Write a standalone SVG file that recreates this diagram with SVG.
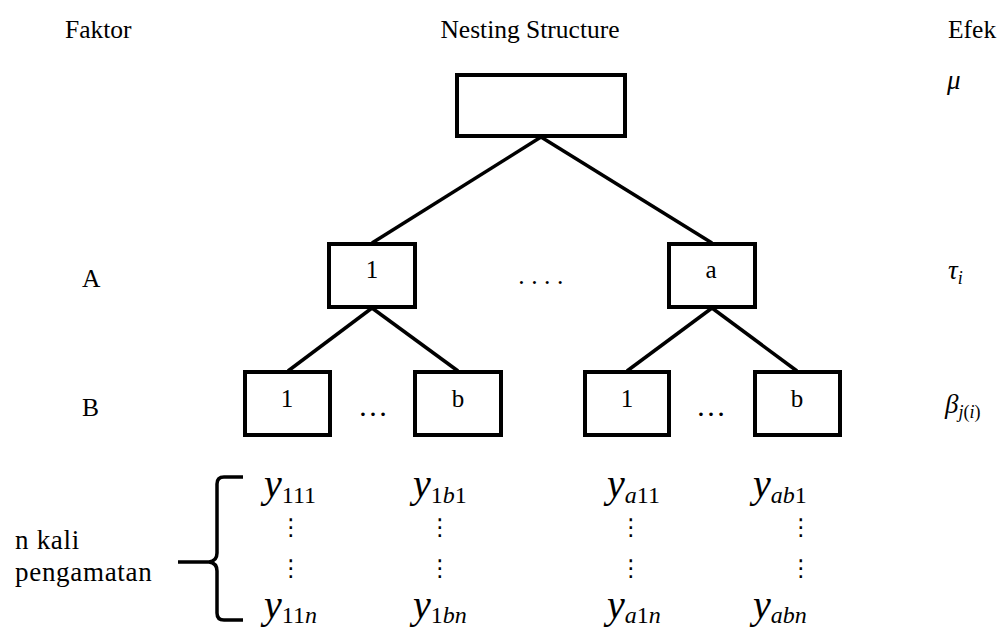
<svg xmlns="http://www.w3.org/2000/svg" width="1006" height="629" viewBox="0 0 1006 629">
<style>
.box{fill:#fff;stroke:#000;stroke-width:4}
.edge{stroke:#000;stroke-width:3.5;fill:none}
.lbl{font-family:"Liberation Serif","Times New Roman",serif;font-size:25.5px;fill:#000}
.bl{font-size:25px}
.big{font-size:27px;letter-spacing:0.7px}
.ell{font-size:30px}
.ctr{text-anchor:middle}
.math{font-family:"Liberation Serif","Times New Roman",serif;font-style:italic;fill:#000}
.up{font-style:normal}
.vd{font-family:"DejaVu Sans",sans-serif;font-size:23px;text-anchor:middle;fill:#000}
.obs{font-size:40px}
.sub{font-size:24px}
</style>
<rect width="1006" height="629" fill="#fff"/>
<g id="headers">
<text class="lbl" x="65" y="38">Faktor</text>
<text class="lbl ctr" x="530" y="38">Nesting Structure</text>
<text class="lbl" x="948" y="38">Efek</text>
<text class="lbl" x="82" y="287">A</text>
<text class="lbl" x="82" y="416">B</text>
</g>
<g id="connectors">
<line class="edge" x1="541" y1="137" x2="372" y2="243"/>
<line class="edge" x1="541" y1="137" x2="712" y2="243"/>
<line class="edge" x1="372" y1="308" x2="288" y2="371"/>
<line class="edge" x1="372" y1="308" x2="458" y2="371"/>
<line class="edge" x1="712" y1="308" x2="627" y2="371"/>
<line class="edge" x1="712" y1="308" x2="797" y2="371"/>
</g>
<g id="root"><rect class="box" x="457" y="75" width="168" height="61"/></g>
<g id="A1"><rect class="box" x="329" y="244" width="86" height="63"/><text class="lbl bl ctr" x="372" y="278">1</text></g>
<g id="Aa"><rect class="box" x="669" y="244" width="86" height="63"/><text class="lbl bl ctr" x="711" y="278">a</text></g>
<text class="lbl ctr" x="544" y="284" letter-spacing="6.5">....</text>
<g id="B11"><rect class="box" x="245" y="372" width="85" height="63"/><text class="lbl bl ctr" x="287" y="407">1</text></g>
<g id="B1b"><rect class="box" x="415" y="372" width="86" height="63"/><text class="lbl bl ctr" x="458" y="407">b</text></g>
<g id="Ba1"><rect class="box" x="585" y="372" width="84" height="63"/><text class="lbl bl ctr" x="627" y="407">1</text></g>
<g id="Bab"><rect class="box" x="755" y="372" width="85" height="63"/><text class="lbl bl ctr" x="797" y="407">b</text></g>
<text class="lbl ell ctr" x="373" y="416">…</text>
<text class="lbl ell ctr" x="711" y="416">…</text>
<g id="effects">
<text class="math" x="947" y="89" font-size="27">μ</text>
<text class="math" x="948" y="279" font-size="27">τ<tspan font-size="18" dy="5">i</tspan></text>
<text class="math" x="945" y="413" font-size="27">β<tspan font-size="18" dy="5">j<tspan class="up">(</tspan>i<tspan class="up">)</tspan></tspan></text>
</g>
<g id="observations">
<text class="math obs" x="264" y="497">y<tspan class="up sub" dy="6">111</tspan></text>
<text class="math obs" x="413" y="497">y<tspan class="up sub" dy="6">1</tspan><tspan class="sub">b</tspan><tspan class="up sub">1</tspan></text>
<text class="math obs" x="607" y="497">y<tspan class="sub" dy="6">a</tspan><tspan class="up sub">11</tspan></text>
<text class="math obs" x="753" y="497">y<tspan class="sub" dy="6">ab</tspan><tspan class="up sub">1</tspan></text>
<text class="vd" x="291" y="535">⋮</text>
<text class="vd" x="440" y="535">⋮</text>
<text class="vd" x="631" y="535">⋮</text>
<text class="vd" x="801" y="535">⋮</text>
<text class="vd" x="291" y="576">⋮</text>
<text class="vd" x="440" y="576">⋮</text>
<text class="vd" x="631" y="576">⋮</text>
<text class="vd" x="801" y="576">⋮</text>
<text class="math obs" x="264" y="618">y<tspan class="up sub" dy="5">11</tspan><tspan class="sub">n</tspan></text>
<text class="math obs" x="413" y="618">y<tspan class="up sub" dy="5">1</tspan><tspan class="sub">bn</tspan></text>
<text class="math obs" x="607" y="618">y<tspan class="sub" dy="5">a</tspan><tspan class="up sub">1</tspan><tspan class="sub">n</tspan></text>
<text class="math obs" x="753" y="618">y<tspan class="sub" dy="5">abn</tspan></text>
</g>
<g id="brace">
<path class="edge" stroke-width="2.2" d="M243,477 H224 Q217,477 217,484 V553 Q217,561 209,562 H178 M209,562 Q217,563 217,571 V613 Q217,620 224,620 H243"/>
<text class="lbl big" x="15" y="549">n kali</text>
<text class="lbl big" x="15" y="581">pengamatan</text>
</g>
</svg>
